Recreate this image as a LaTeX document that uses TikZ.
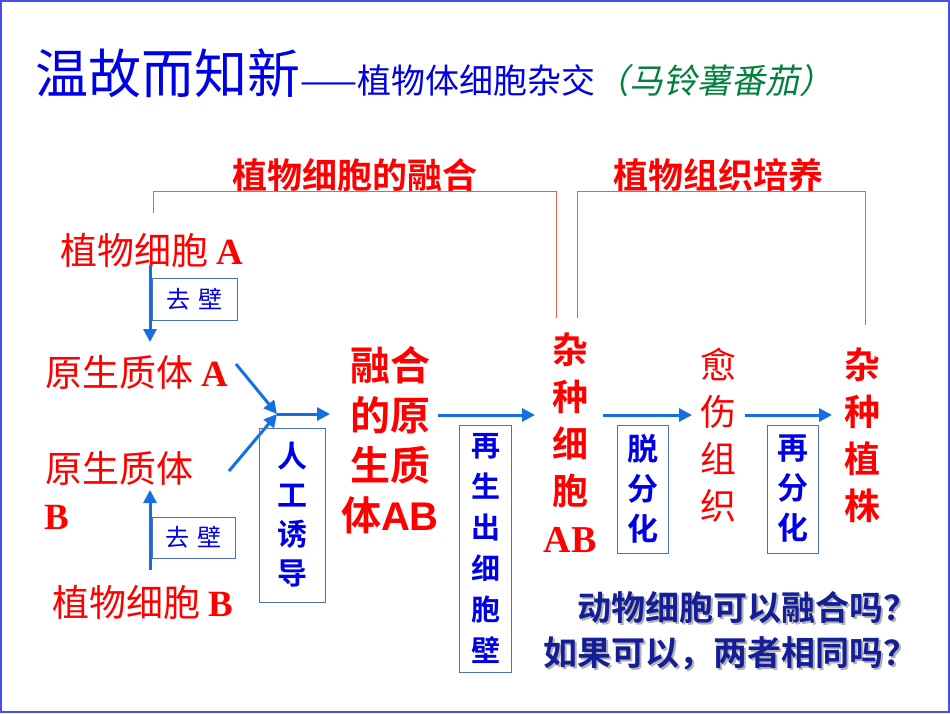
\documentclass[tikz,border=0pt]{standalone}
\usepackage{fontspec}
\usetikzlibrary{arrows.meta}
\setmainfont{Liberation Serif}
\newfontfamily\cjk{Noto Sans CJK SC}
\newfontfamily\cjkb{Noto Sans CJK SC Bold}
\newfontfamily\cjksl[FakeSlant=0.2]{Noto Sans CJK SC}
\newfontfamily\lsans{Liberation Sans}
\definecolor{red0}{RGB}{255,0,0}
\definecolor{blue0}{RGB}{0,0,230}
\definecolor{arr}{RGB}{20,110,230}
\definecolor{boxc}{RGB}{80,110,190}
\definecolor{brk}{RGB}{230,100,70}
\definecolor{navy}{RGB}{20,30,150}
\definecolor{grn}{RGB}{0,130,60}
\begin{document}
\begin{tikzpicture}[x=1pt,y=-1pt,
  redlab/.style={text=red0,font=\cjkb\fontsize{32}{40}\selectfont,inner sep=0pt,align=center},
  redserif/.style={text=red0,font=\cjk\fontsize{37}{40}\selectfont,inner sep=0pt,anchor=west},
  boxlab/.style={draw=boxc,line width=0.8pt,text=blue0,inner sep=0pt,align=center},
  flow/.style={draw=arr,line width=3pt,-{Triangle[length=13pt,width=13pt]}},
  brack/.style={draw=brk,line width=0.8pt},
  quest/.style={text=navy,font=\cjkb\fontsize{34}{34}\selectfont,inner sep=0pt,anchor=east}]
\useasboundingbox (0,0) rectangle (950,713);
\draw[draw=blue0!70,line width=1.5pt] (1,1) rectangle (949,712);
% title
\node[anchor=base west,inner sep=0pt,text=blue0] (title) at (35,93)
 {{\cjk\fontsize{53}{53}\selectfont 温故而知新}{\cjk\fontsize{34}{34}\selectfont ——植物体细胞杂交}{\cjksl\fontsize{34}{34}\selectfont\color{grn}（马铃薯番茄）}};
% headers
\node[redlab,font=\cjkb\fontsize{35}{36}\selectfont] (h1) at (355,175) {植物细胞的融合};
\node[redlab,font=\cjkb\fontsize{35}{36}\selectfont] (h2) at (718,175) {植物组织培养};
\coordinate (b1a) at (153,213); \coordinate (b1b) at (556,318);
\coordinate (b2a) at (577,318); \coordinate (b2b) at (865,325);
\draw[brack] (b1a) |- (556,191) -- (b1b);
\draw[brack] (b2a) |- (865,191) -- (b2b);
% left column
\node[redserif] (pa) at (60,250) {植物细胞 {\rmfamily\bfseries A}};
\node[redserif] (ya) at (45,372) {原生质体 {\rmfamily\bfseries A}};
\node[redserif] (yb) at (45,468) {原生质体};
\node[text=red0,font=\rmfamily\bfseries\fontsize{37}{40}\selectfont,inner sep=0pt] (ybB) at (57,517) {B};
\node[redserif] (pb) at (52,602) {植物细胞 {\rmfamily\bfseries B}};
\node[boxlab,minimum width=85pt,minimum height=42pt,font=\cjk\fontsize{24}{24}\selectfont] (qb1) at (194.5,299) {去\,\,壁};
\node[boxlab,minimum width=83pt,minimum height=41pt,font=\cjk\fontsize{24}{24}\selectfont] (qb2) at (193.5,537.5) {去\,\,壁};
\coordinate (a1s) at (150,265); \coordinate (a1e) at (150,342);
\coordinate (a2s) at (150,570); \coordinate (a2e) at (150,490);
\draw[flow] (a1s) -- (a1e);
\draw[flow] (a2s) -- (a2e);
\coordinate (m) at (277,414);
\coordinate (sa) at (236,364); \coordinate (sb) at (229,471);
\draw[flow] (sa) -- (m);
\draw[flow] (sb) -- (m);
\node[boxlab,minimum width=66pt,minimum height=174pt,font=\cjkb\fontsize{30}{39}\selectfont] (rg) at (292,515) {人\\工\\诱\\导};
% fused protoplast
\node[redlab,font=\cjkb\fontsize{40}{50}\selectfont] (rh) at (390,440) {融合\\的原\\生质\\体{\lsans\bfseries AB}};
\coordinate (rgE) at (330,414);
\draw[flow] (m) -- (rgE);
\node[boxlab,minimum width=52pt,minimum height=247pt,font=\cjkb\fontsize{29}{41}\selectfont] (zs) at (485.5,548.5) {再\\生\\出\\细\\胞\\壁};
\coordinate (z1) at (438,415); \coordinate (z2) at (535,415);
\draw[flow] (z1) -- (z2);
% hybrid cell
\node[redlab,font=\cjkb\fontsize{36}{47}\selectfont] (hc) at (570,420) {杂\\种\\细\\胞};
\node[text=red0,font=\rmfamily\bfseries\fontsize{38}{40}\selectfont,inner sep=0pt] (hcAB) at (570,540) {AB};
\coordinate (t1) at (603,415); \coordinate (t2) at (692,415);
\draw[flow] (t1) -- (t2);
\node[boxlab,minimum width=51pt,minimum height=128pt,font=\cjkb\fontsize{31}{40}\selectfont] (tf) at (642.5,489) {脱\\分\\化};
% callus
\node[redlab,font=\cjk\fontsize{36}{47}\selectfont] (ys) at (718,435) {愈\\伤\\组\\织};
\coordinate (u1) at (745,415); \coordinate (u2) at (832,415);
\draw[flow] (u1) -- (u2);
\node[boxlab,minimum width=51pt,minimum height=128pt,font=\cjkb\fontsize{31}{40}\selectfont] (zf) at (792.5,489) {再\\分\\化};
% hybrid plant
\node[redlab,font=\cjkb\fontsize{36}{47}\selectfont] (zz) at (862,435) {杂\\种\\植\\株};
% questions
\node[quest,text=gray!60] at (920,610) {动物细胞可以融合吗？};
\node[quest] (q1) at (918,608) {动物细胞可以融合吗？};
\node[quest,text=gray!60] at (920,655) {如果可以，两者相同吗？};
\node[quest] (q2) at (918,653) {如果可以，两者相同吗？};
\end{tikzpicture}
\end{document}
